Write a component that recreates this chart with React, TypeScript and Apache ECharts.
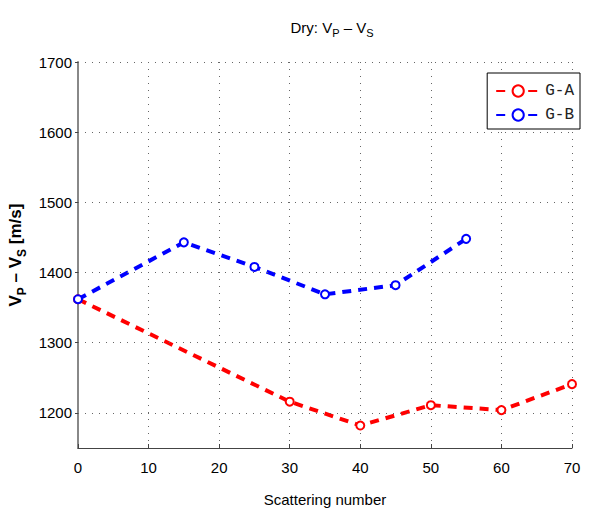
import React, { useEffect, useRef } from "react";
import * as echarts from "echarts";

const xTicks = [0, 10, 20, 30, 40, 50, 60, 70];
const yTicks = [1200, 1300, 1400, 1500, 1600, 1700];
const seriesNames = ["G-A", "G-B"];
const gaX = [0, 30, 40, 50, 60, 70];
const gaY = [1362, 1216, 1182, 1211, 1204, 1241];
const gbX = [0, 15, 25, 35, 45, 55];
const gbY = [1362, 1443, 1408, 1369, 1382, 1448];

const FONT = "'Liberation Sans Narrow', 'Liberation Sans', Arial, sans-serif";

export default function App() {
  const ref = useRef<HTMLDivElement>(null);
  useEffect(() => {
    if (!ref.current) return;
    const chart = echarts.init(ref.current, undefined, { renderer: "svg" });
    const mk = (xs: number[], ys: number[]) => xs.map((x, i) => [x, ys[i]]);
    chart.setOption({
      animation: false,
      backgroundColor: "#ffffff",
      title: {
        text: "Dry: V{sub|P} – V{sub|S}",
        left: 327,
        textAlign: "center",
        top: 12,
        textStyle: {
          fontFamily: FONT,
          fontSize: 15,
          fontWeight: "normal",
          color: "#000",
          rich: {
            sub: { fontFamily: FONT, fontSize: 11, color: "#000", padding: [10, 0, 0, 0] },
          },
        },
      },
      legend: {
        right: 17,
        top: 73,
        orient: "vertical",
        backgroundColor: "#fff",
        borderColor: "#000",
        borderWidth: 1,
        borderRadius: 0,
        padding: [10, 6, 6, 8],
        itemGap: 8,
        itemWidth: 44,
        itemHeight: 14,
        textStyle: { fontFamily: "'Liberation Mono', 'DejaVu Sans Mono', monospace", fontSize: 16, color: "#222" },
        data: seriesNames,
      },
      grid: { left: 78, right: 25, top: 62, bottom: 70, outerBoundsMode: "none" },
      xAxis: {
        type: "value",
        min: xTicks[0],
        max: xTicks[xTicks.length - 1],
        interval: 10,
        name: "Scattering number",
        nameLocation: "middle",
        nameGap: 44,
        nameTextStyle: { fontFamily: FONT, fontSize: 15, color: "#000" },
        axisLine: { show: true, lineStyle: { color: "#444", width: 1 } },
        axisTick: { show: true, inside: true, length: 4, lineStyle: { color: "#444" } },
        axisLabel: { fontFamily: FONT, fontSize: 15, color: "#000", margin: 12 },
        splitLine: { show: true, lineStyle: { color: "#666", type: [1, 6], width: 1 } },
      },
      yAxis: {
        type: "value",
        min: 1150,
        max: 1700,
        interval: 50,
        axisLabel: {
          fontFamily: FONT,
          fontSize: 15,
          color: "#000",
          margin: 6,
          customValues: yTicks,
          formatter: (v: number) => String(v),
        },
        axisTick: { show: true, length: 3, customValues: yTicks, lineStyle: { color: "#444" } },
        name: "V{sub|P} – V{sub|S} [m/s]",
        nameLocation: "middle",
        nameRotate: 90,
        nameGap: 50,
        nameTextStyle: {
          fontFamily: FONT,
          fontSize: 17,
          fontWeight: "bold",
          color: "#000",
          rich: { sub: { fontFamily: FONT, fontSize: 12, fontWeight: "bold", color: "#000", padding: [12, 0, 0, 0] } },
        },
        axisLine: { show: true, lineStyle: { color: "#888", width: 2 } },
        splitLine: { show: false },
      },
      series: [
        {
          name: seriesNames[0],
          type: "line",
          data: mk(gaX, gaY),
          symbol: "emptyCircle",
          symbolSize: 8,
          color: "#ff0000",
          lineStyle: { color: "#ff0000", width: 4, type: [9, 7] },
          itemStyle: { color: "#ff0000", borderWidth: 3 },
          z: 3,
          markLine: {
            silent: true,
            symbol: "none",
            label: { show: false },
            lineStyle: { color: "#666", type: [1, 6], width: 1 },
            data: yTicks.map((v) => ({ yAxis: v })),
          },
        },
        {
          name: seriesNames[1],
          type: "line",
          data: mk(gbX, gbY),
          symbol: "emptyCircle",
          symbolSize: 8,
          color: "#0000ff",
          lineStyle: { color: "#0000ff", width: 4, type: [9, 7] },
          itemStyle: { color: "#0000ff", borderWidth: 3 },
          z: 4,
        },
      ],
    });
    return () => chart.dispose();
  }, []);
  return <div ref={ref} style={{ width: 597, height: 518, margin: -8 }} />;
}
